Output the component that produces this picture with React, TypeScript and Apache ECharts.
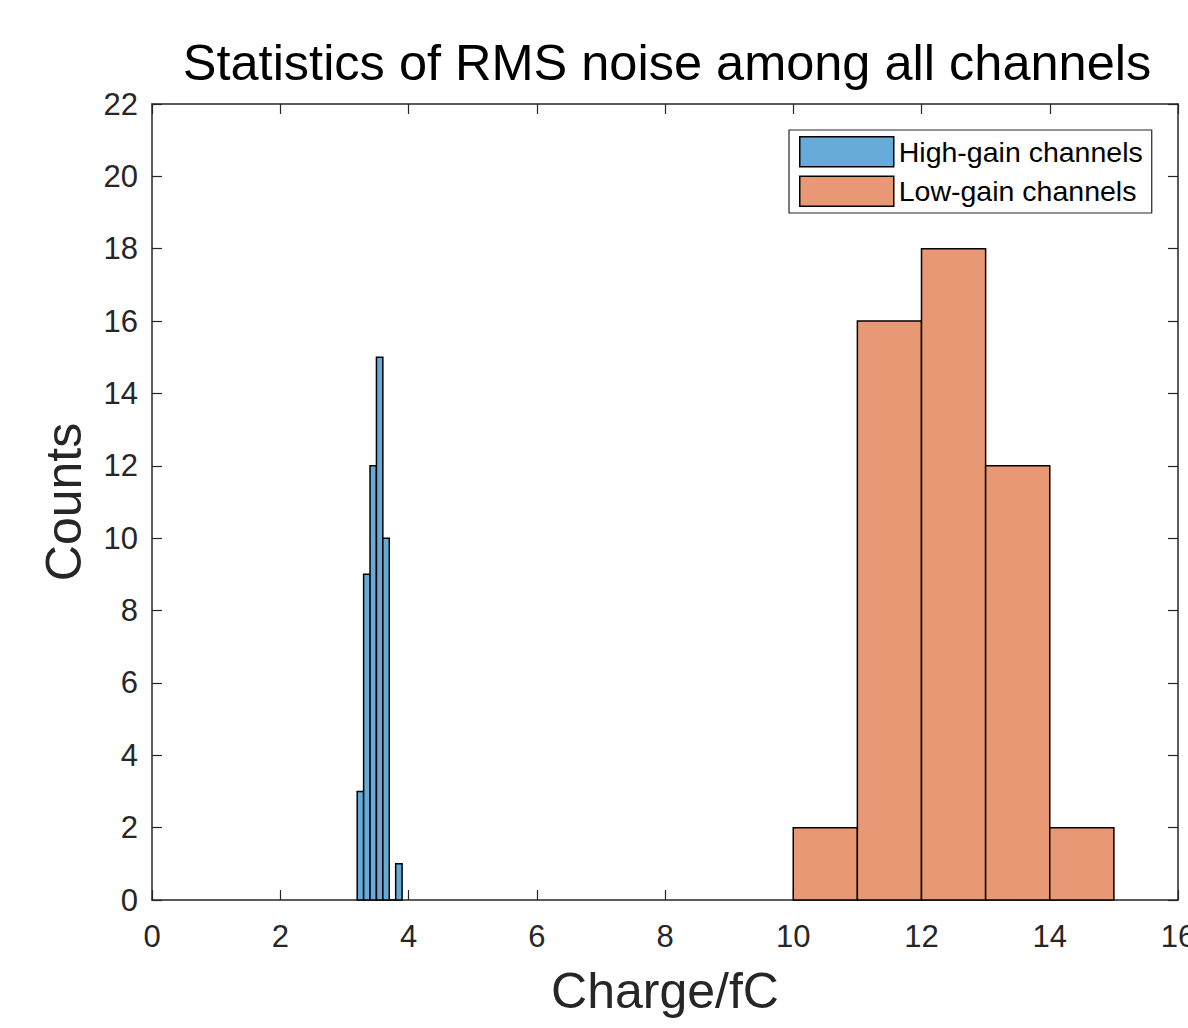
import React, { useEffect, useRef } from "react";
import * as echarts from "echarts";

const titleText = "Statistics of RMS noise among all channels";
const xAxisName = "Charge/fC";
const yAxisName = "Counts";
const seriesNames = ["High-gain channels", "Low-gain channels"];
const highGainEdges = [3.2, 3.3, 3.4, 3.5, 3.6, 3.7, 3.8, 3.9];
const highGainCounts = [3, 9, 12, 15, 10, 0, 1];
const lowGainEdges = [10, 11, 12, 13, 14, 15];
const lowGainCounts = [2, 16, 18, 12, 2];
const seriesColors = ["#66AAD7", "#E89875"];

const FONT = "'Liberation Sans', Arial, Helvetica, sans-serif";
const AX = "#262626";

function toBins(edges: number[], counts: number[]) {
  return counts.map((c, i) => [edges[i], edges[i + 1], c]);
}

function renderBar(params: any, api: any) {
  const p0 = api.coord([api.value(0), api.value(2)]);
  const p1 = api.coord([api.value(1), 0]);
  return {
    type: "rect",
    shape: { x: p0[0], y: p0[1], width: p1[0] - p0[0], height: p1[1] - p0[1] },
    style: api.style({ stroke: "#000", lineWidth: 1.5 }),
  };
}

export default function App() {
  const ref = useRef<HTMLDivElement>(null);
  useEffect(() => {
    if (!ref.current) return;
    const chart = echarts.init(ref.current, undefined, { renderer: "svg" });
    const axisCommon = {
      type: "value",
      axisLine: { show: true, onZero: false, lineStyle: { color: AX, width: 1.5 } },
      axisTick: { show: true, inside: true, length: 10, lineStyle: { color: AX, width: 1.2 } },
      splitLine: { show: false },
    };
    chart.setOption({
      animation: false,
      backgroundColor: "#ffffff",
      title: {
        text: titleText,
        left: 662,
        top: 32,
        textAlign: "center",
        textStyle: { fontFamily: FONT, fontSize: 50.5, fontWeight: "normal", color: "#000" },
      },
      legend: {
        orient: "vertical",
        left: 789,
        top: 130,
        padding: [6, 9, 6, 10],
        itemWidth: 94,
        itemHeight: 30,
        itemGap: 8,
        itemTextGap: 6,
        icon: "rect",
        borderColor: AX,
        borderWidth: 1.2,
        backgroundColor: "#fff",
        itemStyle: { borderColor: "#000", borderWidth: 1.5 },
        textStyle: { fontFamily: FONT, fontSize: 28.5, color: "#000" },
        data: seriesNames,
      },
      grid: { left: 152, right: 10, top: 104, bottom: 128, outerBoundsMode: "none", containLabel: false },
      xAxis: [
        {
          ...axisCommon,
          position: "bottom",
          min: 0,
          max: 16,
          interval: 2,
          name: xAxisName,
          nameLocation: "middle",
          nameGap: 66,
          nameTextStyle: { fontFamily: FONT, fontSize: 50, color: AX },
          axisLabel: { fontFamily: FONT, fontSize: 31, color: AX, margin: 21 },
        },
        {
          ...axisCommon,
          position: "top",
          min: 0,
          max: 16,
          interval: 2,
          axisLabel: { show: false },
        },
      ],
      yAxis: [
        {
          ...axisCommon,
          position: "left",
          min: 0,
          max: 22,
          interval: 2,
          name: yAxisName,
          nameLocation: "middle",
          nameGap: 63,
          nameTextStyle: { fontFamily: FONT, fontSize: 50, color: AX },
          axisLabel: { fontFamily: FONT, fontSize: 31, color: AX, margin: 14 },
        },
        {
          ...axisCommon,
          position: "right",
          min: 0,
          max: 22,
          interval: 2,
          axisLabel: { show: false },
        },
      ],
      series: [
        {
          name: seriesNames[0],
          type: "custom",
          xAxisIndex: 0,
          yAxisIndex: 0,
          renderItem: renderBar,
          itemStyle: { color: seriesColors[0], borderColor: "#000", borderWidth: 1.5 },
          encode: { x: [0, 1], y: 2 },
          data: toBins(highGainEdges, highGainCounts),
        },
        {
          name: seriesNames[1],
          type: "custom",
          xAxisIndex: 0,
          yAxisIndex: 0,
          renderItem: renderBar,
          itemStyle: { color: seriesColors[1], borderColor: "#000", borderWidth: 1.5 },
          encode: { x: [0, 1], y: 2 },
          data: toBins(lowGainEdges, lowGainCounts),
        },
      ],
    });
    return () => chart.dispose();
  }, []);
  return (
    <div
      ref={ref}
      style={{ position: "fixed", left: 0, top: 0, width: 1188, height: 1028, background: "#fff" }}
    />
  );
}
